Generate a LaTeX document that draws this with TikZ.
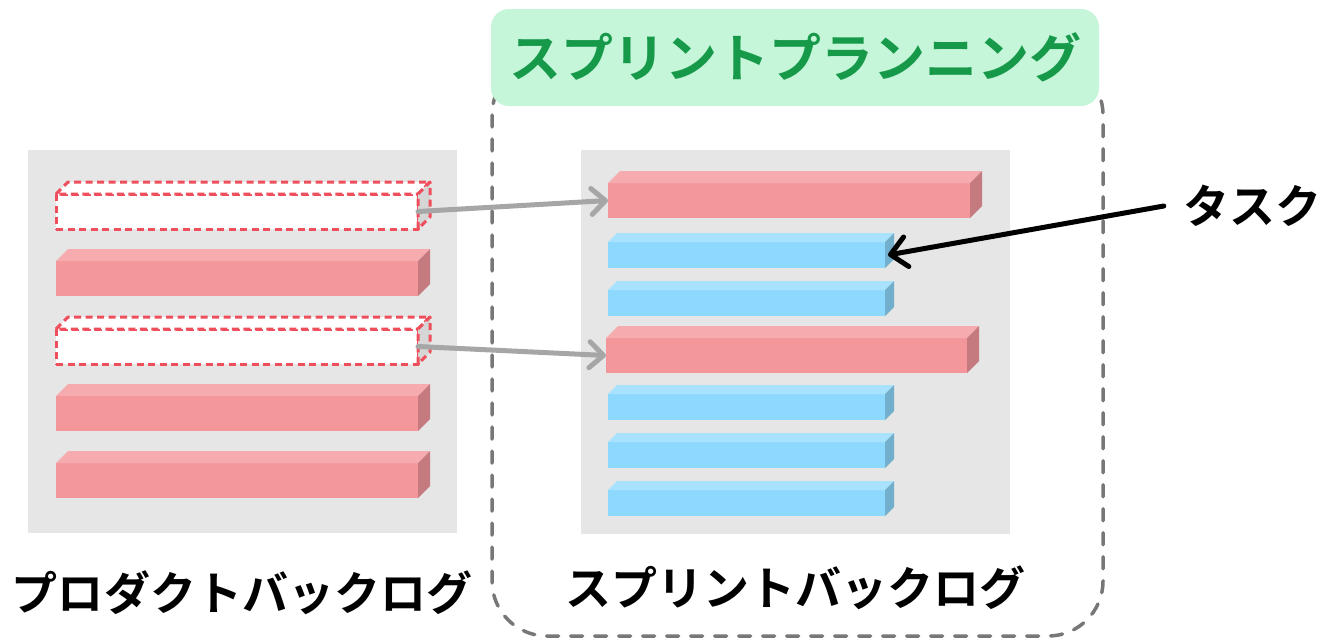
\documentclass[tikz,border=0pt]{standalone}
\usepackage{fontspec}
\newfontfamily\jp{Noto Sans CJK JP}[BoldFont={* Bold}]
\usetikzlibrary{arrows.meta}
\definecolor{panelgray}{HTML}{E6E6E6}
\definecolor{redfront}{HTML}{F4979B}
\definecolor{redtop}{HTML}{F6ABAF}
\definecolor{redside}{HTML}{C47A7E}
\definecolor{bluefront}{HTML}{8DD9FD}
\definecolor{bluetop}{HTML}{A8E2FC}
\definecolor{blueside}{HTML}{72AFCD}
\definecolor{dashred}{HTML}{EF4F5C}
\definecolor{ghostside}{HTML}{D6D6D6}
\definecolor{arrowgray}{HTML}{A6A6A6}
\definecolor{framegray}{HTML}{777777}
\definecolor{titlefill}{HTML}{C5F6D9}
\definecolor{titletext}{HTML}{17994A}
\tikzset{
  panel/.style={fill=panelgray, draw=none},
  redfront/.style={fill=redfront, draw=none, inner sep=0pt, outer sep=0pt},
  redtop/.style={fill=redtop},
  redside/.style={fill=redside},
  bluefront/.style={fill=bluefront, draw=none, inner sep=0pt, outer sep=0pt},
  bluetop/.style={fill=bluetop},
  blueside/.style={fill=blueside},
  ghostline/.style={draw=dashred, line width=3pt, dash pattern=on 7pt off 4.5pt, line join=round},
  ghostfront/.style={fill=white, ghostline, inner sep=0pt, outer sep=0pt},
  ghosttop/.style={fill=white, ghostline},
  ghostside/.style={fill=ghostside, ghostline},
  movearrow/.style={draw=arrowgray, line width=5pt, line cap=round,
    -{Straight Barb[length=14pt,width=26pt,line cap=round,line join=round]}},
  taskarrow/.style={draw=black, line width=5pt, line cap=round,
    -{Straight Barb[length=16pt,width=30pt,line cap=round,line join=round]}},
  label/.style={font=\jp\bfseries\fontsize{46pt}{50pt}\selectfont, inner sep=0pt},
}
% #1 name, #2 x, #3 y, #4 width, #5 height, #6 depth, #7 style prefix
\newcommand{\slab}[7]{%
  \node[#7front, minimum width=#4pt, minimum height=#5pt, anchor=north west] (#1) at (#2,#3) {};
  \path[#7top] (#1.north west) -- ++(#6pt,#6pt) -- ([shift={(#6pt,#6pt)}]#1.north east) -- (#1.north east) -- cycle;
  \path[#7side] (#1.north east) -- ++(#6pt,#6pt) -- ([shift={(#6pt,#6pt)}]#1.south east) -- (#1.south east) -- cycle;
}
\begin{document}
\begin{tikzpicture}[x=1pt,y=-1pt]
\useasboundingbox (0,0) rectangle (1321,640);
% container
\draw[framegray, line width=3.5pt, line cap=round, dash pattern=on 12pt off 12pt, rounded corners=55pt]
  (492,60) rectangle (1103,636);
\node[fill=titlefill, rounded corners=18pt, minimum width=608pt, minimum height=97pt,
  inner sep=0pt, text=titletext, font=\jp\bfseries\fontsize{52pt}{55pt}\selectfont]
  (title) at (795,57.5) {スプリントプランニング};
% panels
\path[panel] (28,150) rectangle (457,533);
\path[panel] (581,150) rectangle (1010,534);
% product backlog
\slab{lb1}{56}{194}{362}{35}{12}{ghost}
\slab{lb2}{56}{261}{362}{35}{12}{red}
\slab{lb3}{56}{329}{362}{35}{12}{ghost}
\slab{lb4}{56}{396}{362}{35}{12}{red}
\slab{lb5}{56}{463}{362}{35}{12}{red}
% sprint backlog
\slab{rb1}{608}{183}{362}{35}{12}{red}
\slab{rb2}{608}{242}{277}{26}{9}{blue}
\slab{rb3}{608}{290}{277}{26}{9}{blue}
\slab{rb4}{606}{338}{361}{35}{12}{red}
\slab{rb5}{608}{394}{277}{26}{9}{blue}
\slab{rb6}{608}{442}{277}{26}{9}{blue}
\slab{rb7}{608}{490}{277}{26}{9}{blue}
% arrows
\draw[movearrow] (lb1.east) -- (rb1.west);
\draw[movearrow] (lb3.east) -- (rb4.west);
% labels
\node[label, inner xsep=19pt] (task) at (1252,206) {タスク};
\draw[taskarrow] (task.west) -- ([xshift=3pt]rb2.east);
\node[label] (pb) at (242,593) {プロダクトバックログ};
\node[label] (sb) at (795,588) {スプリントバックログ};
\end{tikzpicture}
\end{document}
